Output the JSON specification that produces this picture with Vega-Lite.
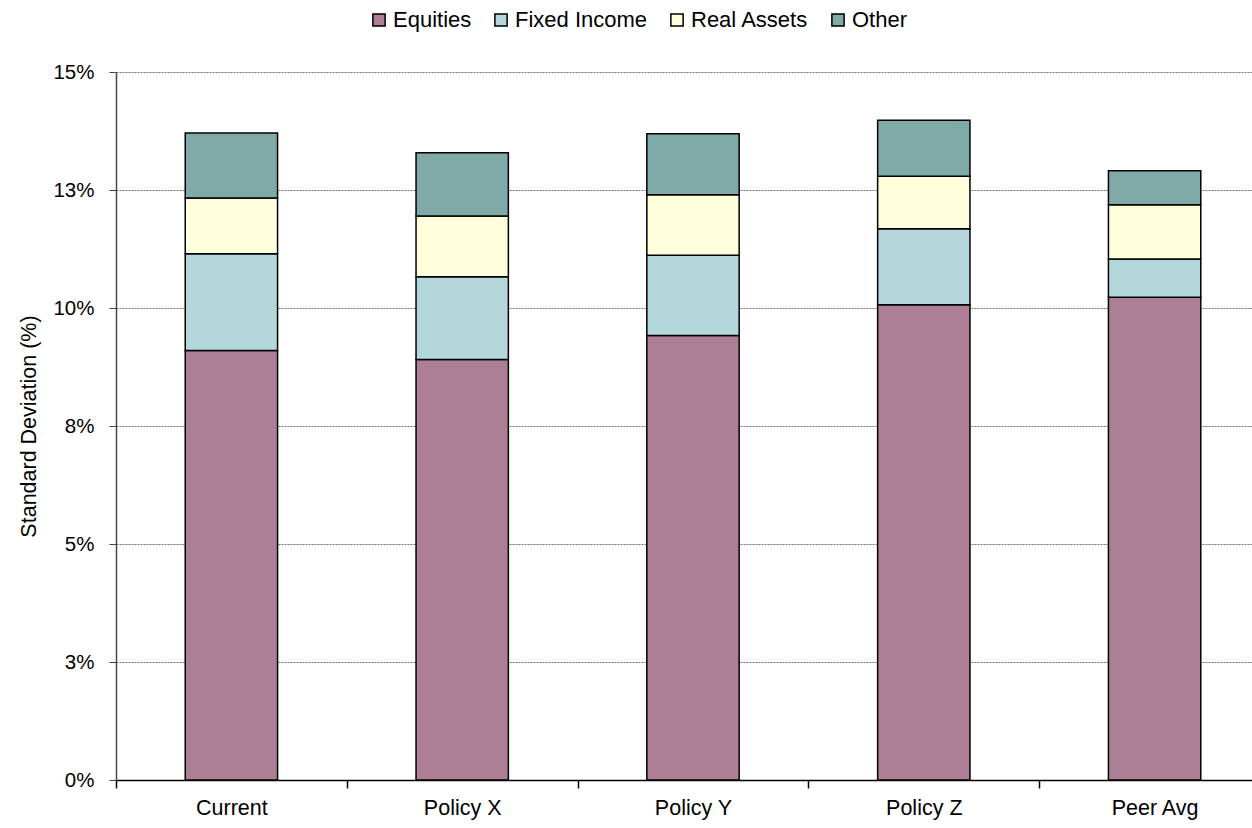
{
  "$schema": "https://vega.github.io/schema/vega-lite/v6.json",
  "width": 1130,
  "height": 708,
  "autosize": {"type": "none"},
  "padding": {"left": 116, "top": 72, "right": 6, "bottom": 48},
  "background": "white",
  "config": {
    "view": {"stroke": null},
    "font": "Liberation Sans",
    "axis": {"labelFont": "Liberation Sans", "titleFont": "Liberation Sans", "labelColor": "#000", "titleColor": "#000"},
    "legend": {"labelFont": "Liberation Sans", "labelColor": "#000"}
  },
  "data": {
    "values": [
      {"portfolio": "Current", "asset": "Equities", "order": 1, "value": 9.10},
      {"portfolio": "Current", "asset": "Fixed Income", "order": 2, "value": 2.05},
      {"portfolio": "Current", "asset": "Real Assets", "order": 3, "value": 1.18},
      {"portfolio": "Current", "asset": "Other", "order": 4, "value": 1.38},
      {"portfolio": "Policy X", "asset": "Equities", "order": 1, "value": 8.91},
      {"portfolio": "Policy X", "asset": "Fixed Income", "order": 2, "value": 1.75},
      {"portfolio": "Policy X", "asset": "Real Assets", "order": 3, "value": 1.29},
      {"portfolio": "Policy X", "asset": "Other", "order": 4, "value": 1.34},
      {"portfolio": "Policy Y", "asset": "Equities", "order": 1, "value": 9.42},
      {"portfolio": "Policy Y", "asset": "Fixed Income", "order": 2, "value": 1.70},
      {"portfolio": "Policy Y", "asset": "Real Assets", "order": 3, "value": 1.28},
      {"portfolio": "Policy Y", "asset": "Other", "order": 4, "value": 1.29},
      {"portfolio": "Policy Z", "asset": "Equities", "order": 1, "value": 10.07},
      {"portfolio": "Policy Z", "asset": "Fixed Income", "order": 2, "value": 1.61},
      {"portfolio": "Policy Z", "asset": "Real Assets", "order": 3, "value": 1.11},
      {"portfolio": "Policy Z", "asset": "Other", "order": 4, "value": 1.19},
      {"portfolio": "Peer Avg", "asset": "Equities", "order": 1, "value": 10.23},
      {"portfolio": "Peer Avg", "asset": "Fixed Income", "order": 2, "value": 0.81},
      {"portfolio": "Peer Avg", "asset": "Real Assets", "order": 3, "value": 1.15},
      {"portfolio": "Peer Avg", "asset": "Other", "order": 4, "value": 0.72}
    ]
  },
  "mark": {"type": "bar", "width": {"band": 0.4}, "stroke": "#000", "strokeWidth": 1.5},
  "encoding": {
    "x": {
      "field": "portfolio",
      "type": "nominal",
      "sort": ["Current", "Policy X", "Policy Y", "Policy Z", "Peer Avg"],
      "scale": {"range": [0, 1154], "paddingInner": 0, "paddingOuter": 0},
      "axis": {
        "title": null,
        "labelAngle": 0,
        "labelFontSize": 21.5,
        "labelPadding": 9,
        "tickBand": "extent",
        "tickSize": 8,
        "tickColor": "#000",
        "tickWidth": 1.5,
        "domainColor": "#000",
        "domainWidth": 1.5,
        "grid": false
      }
    },
    "y": {
      "field": "value",
      "type": "quantitative",
      "stack": "zero",
      "scale": {"domain": [0, 15], "nice": false},
      "axis": {
        "title": "Standard Deviation (%)",
        "titleFontSize": 21.5,
        "titleFontWeight": "normal",
        "titlePadding": 12,
        "values": [0, 2.5, 5, 7.5, 10, 12.5, 15],
        "labelExpr": "format(datum.value, '.0f') + '%'",
        "labelFontSize": 20.5,
        "labelPadding": 15,
        "tickSize": 7,
        "tickColor": "#444",
        "domainColor": "#444",
        "domainWidth": 1.5,
        "grid": true,
        "gridColor": "#777",
        "gridDash": [2, 1],
        "gridWidth": 1
      }
    },
    "color": {
      "field": "asset",
      "type": "nominal",
      "scale": {
        "domain": ["Equities", "Fixed Income", "Real Assets", "Other"],
        "range": ["#AD7F96", "#B4D7DC", "#FFFFDC", "#7FAAA8"]
      },
      "legend": {
        "title": null,
        "orient": "none",
        "direction": "horizontal",
        "legendX": 252,
        "legendY": -63,
        "labelFontSize": 22,
        "symbolType": "square",
        "symbolSize": 150,
        "symbolStrokeColor": "#000",
        "symbolStrokeWidth": 1.5,
        "symbolOpacity": 1,
        "labelOffset": 3,
        "columnPadding": 18
      }
    },
    "order": {"field": "order", "type": "quantitative"}
  }
}
